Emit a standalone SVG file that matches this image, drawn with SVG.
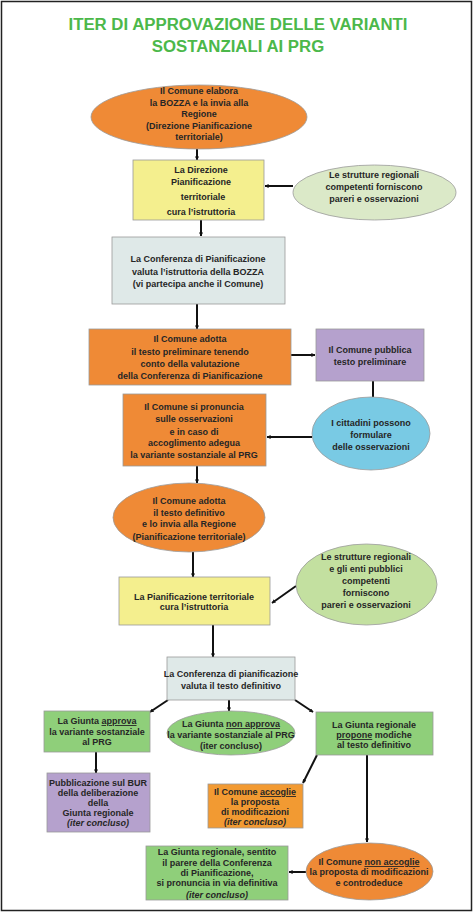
<svg xmlns="http://www.w3.org/2000/svg" width="474" height="913" viewBox="0 0 474 913">
<defs>
<marker id="ah" viewBox="0 0 10 10" refX="9" refY="5" markerWidth="4" markerHeight="4" orient="auto" markerUnits="userSpaceOnUse">
<path d="M0,0 L10,5 L0,10 z" fill="#111"/>
</marker>
<style>
.t{font-family:"Liberation Sans",Arial,sans-serif;font-weight:bold;font-size:9px;fill:#262626;text-anchor:middle}
.i{font-style:italic}
.u{text-decoration:underline}
.title{font-family:"Liberation Sans",Arial,sans-serif;font-weight:bold;font-size:16.8px;fill:#4cb84a;text-anchor:middle}
.s{stroke:#9a9a9a;stroke-width:0.8}
.c{stroke:#111;stroke-width:2;fill:none;marker-end:url(#ah)}
.l{stroke:#111;stroke-width:2;fill:none}
.or{fill:#ef8a36}
.ye{fill:#f4ef8e}
.gb{fill:#dfe9e8}
.pu{fill:#b5a1cd}
.bl{fill:#79cae4}
.lg1{fill:#dbe9c8}
.lg2{fill:#c3e0a0}
.gr{fill:#8fcf7a}
.or2{fill:#f29a32}
</style>
</defs>
<rect x="0" y="0" width="474" height="913" fill="#ffffff"/>
<rect x="1.5" y="1.5" width="470" height="909" fill="none" stroke="#222" stroke-width="1.5"/>
<text class="title" x="238" y="30">ITER DI APPROVAZIONE DELLE VARIANTI</text>
<text class="title" x="238" y="52">SOSTANZIALI AI PRG</text>

<g id="connectors">
<line class="c" x1="197" y1="148" x2="197" y2="160"/>
<line class="c" x1="293" y1="186" x2="265" y2="186"/>
<line class="c" x1="201" y1="220" x2="201" y2="236"/>
<line class="c" x1="197" y1="304" x2="197" y2="329"/>
<line class="c" x1="291" y1="355" x2="315" y2="355"/>
<line class="l" x1="373" y1="381" x2="373" y2="397"/>
<line class="c" x1="312" y1="437" x2="267" y2="437"/>
<line class="c" x1="197" y1="466" x2="197" y2="483"/>
<line class="c" x1="193" y1="552" x2="193" y2="577"/>
<line class="c" x1="296" y1="586" x2="272" y2="603"/>
<line class="c" x1="213" y1="625" x2="213" y2="657"/>
<line class="c" x1="168" y1="700" x2="150" y2="712"/>
<line class="c" x1="229" y1="700" x2="229" y2="711"/>
<line class="c" x1="295" y1="700" x2="313" y2="712"/>
<line class="c" x1="96" y1="752" x2="96" y2="773"/>
<line class="c" x1="317" y1="755" x2="303" y2="783"/>
<line class="c" x1="367" y1="755" x2="367" y2="842"/>
<line class="c" x1="306" y1="872" x2="289" y2="872"/>
</g>

<g id="n1">
<ellipse class="or s" cx="199" cy="117" rx="108" ry="32"/>
<text class="t" x="199" y="94">Il Comune elabora</text>
<text class="t" x="199" y="105.5">la BOZZA e la invia alla</text>
<text class="t" x="199" y="117">Regione</text>
<text class="t" x="199" y="128.5">(Direzione Pianificazione</text>
<text class="t" x="199" y="140">territoriale)</text>
</g>

<g id="n2">
<rect class="ye s" x="133" y="160" width="131" height="60"/>
<text class="t" x="201" y="173">La Direzione</text>
<text class="t" x="201" y="185">Pianificazione</text>
<text class="t" x="203" y="200">territoriale</text>
<text class="t" x="201" y="215">cura l’istruttoria</text>
</g>

<g id="n3">
<ellipse class="lg1 s" cx="374.5" cy="192.5" rx="81.5" ry="27.5"/>
<text class="t" x="374" y="178">Le strutture regionali</text>
<text class="t" x="374" y="190">competenti forniscono</text>
<text class="t" x="374" y="202">pareri e osservazioni</text>
</g>

<g id="n4">
<rect class="gb s" x="112" y="237" width="173" height="67"/>
<text class="t" x="198" y="262">La Conferenza di Pianificazione</text>
<text class="t" x="198" y="275">valuta l’istruttoria della BOZZA</text>
<text class="t" x="198" y="287">(vi partecipa anche il Comune)</text>
</g>

<g id="n5">
<rect class="or s" x="89" y="329" width="202" height="56"/>
<text class="t" x="190" y="342">Il Comune adotta</text>
<text class="t" x="190" y="355">il testo preliminare tenendo</text>
<text class="t" x="190" y="367">conto della valutazione</text>
<text class="t" x="190" y="379">della Conferenza di Pianificazione</text>
</g>

<g id="n6">
<rect class="pu s" x="316" y="329" width="108" height="52"/>
<text class="t" x="370" y="353">Il Comune pubblica</text>
<text class="t" x="370" y="365">testo preliminare</text>
</g>

<g id="n7">
<ellipse class="bl s" cx="371" cy="433.5" rx="59" ry="36.5"/>
<text class="t" x="371" y="426">I cittadini possono</text>
<text class="t" x="371" y="438">formulare</text>
<text class="t" x="371" y="450">delle osservazioni</text>
</g>

<g id="n8">
<rect class="or s" x="123" y="394" width="143" height="72"/>
<text class="t" x="194" y="410">Il Comune si pronuncia</text>
<text class="t" x="194" y="422">sulle osservazioni</text>
<text class="t" x="194" y="435">e in caso di</text>
<text class="t" x="194" y="446">accoglimento adegua</text>
<text class="t" x="194" y="458">la variante sostanziale al PRG</text>
</g>

<g id="n9">
<ellipse class="or s" cx="189" cy="517.5" rx="76" ry="34.5"/>
<text class="t" x="189" y="504">Il Comune adotta</text>
<text class="t" x="189" y="516">il testo definitivo</text>
<text class="t" x="189" y="527">e lo invia alla Regione</text>
<text class="t" x="189" y="540">(Pianificazione territoriale)</text>
</g>

<g id="n10">
<rect class="ye s" x="119" y="577" width="151" height="48"/>
<text class="t" x="194" y="600">La Pianificazione territoriale</text>
<text class="t" x="194" y="610">cura l’istruttoria</text>
</g>

<g id="n11">
<ellipse class="lg2 s" cx="366.5" cy="584.5" rx="70.5" ry="40.5"/>
<text class="t" x="366" y="560">Le strutture regionali</text>
<text class="t" x="366" y="572">e gli enti pubblici</text>
<text class="t" x="366" y="584">competenti</text>
<text class="t" x="366" y="596">forniscono</text>
<text class="t" x="366" y="608">pareri e osservazioni</text>
</g>

<g id="n12">
<rect class="gb s" x="167" y="657" width="128" height="43"/>
<text class="t" x="231" y="677" font-size="8.5">La Conferenza di pianificazione</text>
<text class="t" x="231" y="689" font-size="8.5">valuta il testo definitivo</text>
</g>

<g id="n13">
<rect class="gr s" x="44" y="711" width="106" height="41"/>
<text class="t" x="97" y="724">La Giunta <tspan class="u">approva</tspan></text>
<text class="t" x="97" y="735">la variante sostanziale</text>
<text class="t" x="97" y="745">al PRG</text>
</g>

<g id="n14">
<ellipse class="gr s" cx="231" cy="733" rx="64" ry="22"/>
<text class="t" x="231" y="727">La Giunta <tspan class="u">non approva</tspan></text>
<text class="t" x="231" y="738">la variante sostanziale al PRG</text>
<text class="t" x="231" y="749">(iter concluso)</text>
</g>

<g id="n15">
<rect class="gr s" x="316" y="712" width="117" height="43"/>
<text class="t" x="374" y="728">La Giunta regionale</text>
<text class="t" x="374" y="738"><tspan class="u">propone</tspan> modiche</text>
<text class="t" x="374" y="748">al testo definitivo</text>
</g>

<g id="n16">
<rect class="pu s" x="47" y="773" width="103" height="59"/>
<text class="t" x="98" y="786">Pubblicazione sul BUR</text>
<text class="t" x="98" y="796">della deliberazione</text>
<text class="t" x="98" y="806">della</text>
<text class="t" x="98" y="816">Giunta regionale</text>
<text class="t i" x="98" y="826">(iter concluso)</text>
</g>

<g id="n17">
<rect class="or2 s" x="208" y="784" width="95" height="44"/>
<text class="t" x="255" y="795">Il Comune <tspan class="u">accoglie</tspan></text>
<text class="t" x="255" y="805">la proposta</text>
<text class="t" x="255" y="815">di modificazioni</text>
<text class="t i" x="255" y="825">(iter concluso)</text>
</g>

<g id="n18">
<ellipse class="or s" cx="369.5" cy="871.5" rx="63.5" ry="28.5"/>
<text class="t" x="369" y="865">Il Comune <tspan class="u">non accoglie</tspan></text>
<text class="t" x="369" y="875">la proposta di modificazioni</text>
<text class="t" x="369" y="886">e controdeduce</text>
</g>

<g id="n19">
<rect class="gr s" x="146" y="846" width="142" height="54"/>
<text class="t" x="217" y="855">La Giunta regionale, sentito</text>
<text class="t" x="217" y="866">il parere della Conferenza</text>
<text class="t" x="217" y="876">di Pianificazione,</text>
<text class="t" x="217" y="886">si pronuncia in via definitiva</text>
<text class="t i" x="217" y="898">(iter concluso)</text>
</g>
</svg>
